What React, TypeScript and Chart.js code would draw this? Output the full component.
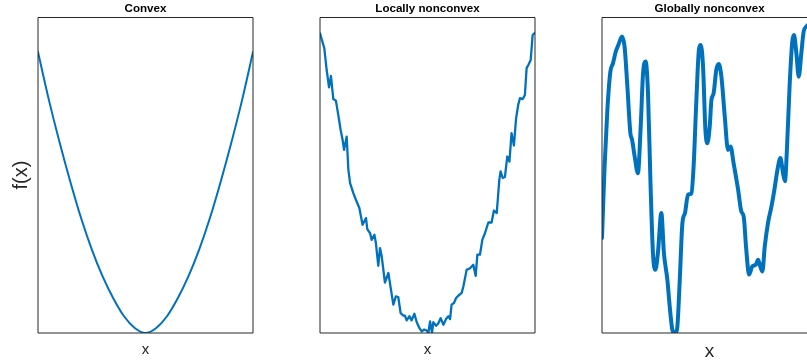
import React, { useEffect, useRef } from "react";
import { Chart, registerables } from "chart.js";

Chart.register(...registerables);

// ---- data (x and f(x) as percent of the axis range) ----
const convexX = [0, 5, 10, 15, 20, 25, 30, 35, 40, 45, 50, 55, 60, 65, 70, 75, 80, 85, 90, 95, 100];
const convexY = [89, 74, 60.5, 48, 36.5, 26.5, 18, 11, 5.3, 1.6, 0, 1.6, 5.3, 11, 18, 26.5, 36.5, 48, 60.5, 74, 89];

const localX = [
  0, 2.0, 3.1, 4.2, 5.1, 6.2, 7.4, 8.5, 9.6, 10.5, 11.2, 12.4, 13.2, 14.0, 15.5, 16.7, 18.3, 19.8, 21.4, 22.0,
  23.3, 24.0, 25.3, 26.0, 27.1, 27.9, 28.7, 30.2, 31.8, 32.9, 34.1, 35.3, 36.4, 37.5, 38.8, 39.5, 40.3, 41.6,
  42.6, 43.9, 45.0, 46.2, 47.3, 48.4, 49.6, 50.4, 51.2, 52.1, 52.7, 54.0, 55.0, 56.1, 57.4, 58.6, 59.7, 60.5,
  61.2, 62.3, 63.3, 64.3, 65.9, 66.7, 68.2, 69.8, 71.3, 72.4, 73.2, 74.4, 75.5, 76.7, 78.3, 79.8, 80.9, 82.2,
  83.4, 84.0, 85.0, 86.0, 87.1, 88.1, 89.1, 90.2, 91.2, 92.2, 93.0, 94.3, 95.3, 96.1, 96.9, 98.0, 98.9, 100,
];
const localY = [
  94.9, 90.2, 83.3, 77.8, 81.4, 74.1, 73.6, 69.1, 64.3, 61.2, 58.0, 62.2, 51.7, 47.5, 44.3, 42.2, 39.6, 34.3, 36.4, 32.9,
  31.6, 29.5, 31.1, 28.5, 21.3, 26.9, 24.3, 16.0, 19.0, 14.2, 9.0, 11.6, 11.4, 6.3, 5.5, 5.5, 4.0, 5.3,
  4.0, 6.1, 3.4, 1.6, 0.5, 1.1, 0.8, 0, 3.7, 0, 3.4, 2.3, 3.0, 4.7, 2.6, 4.4, 5.3, 4.4,
  9.0, 9.5, 11.1, 11.8, 12.7, 14.8, 20.0, 20.5, 21.6, 18.1, 24.8, 24.8, 29.5, 31.6, 35.0, 35.0, 38.8, 38.0,
  48.5, 51.2, 49.1, 49.4, 55.9, 54.3, 63.3, 59.4, 68.0, 72.3, 74.4, 74.1, 75.4, 83.9, 84.9, 86.5, 94.4, 95.1,
];

const globalX = [
  0, 1.2, 2.5, 3.9, 5.1, 6.4, 7.6, 9.3, 10.5, 11.8, 13.2, 14.0, 15.2, 16.7, 18.0, 19.1, 20.3, 21.4, 22.6, 23.7,
  24.8, 26.0, 27.6, 28.8, 30.4, 31.5, 32.7, 33.8, 34.9, 36.1, 37.4, 38.6, 40.0, 41.6, 42.6, 43.9, 45.1, 45.9,
  47.0, 48.1, 49.0, 50.1, 50.9, 51.9, 53.2, 54.3, 55.5, 57.1, 58.6, 59.8, 61.2, 63.3, 64.8, 65.9, 67.1, 68.4,
  69.9, 71.5, 72.6, 73.6, 74.6, 75.7, 77.2, 78.8, 80.3, 81.6, 83.0, 84.2, 85.1, 86.0, 87.3, 88.5, 89.3, 90.4,
  91.5, 92.7, 93.8, 95.0, 96.5,
];
const globalY = [
  30.1, 52.7, 70.7, 82.8, 85.4, 89.1, 91.2, 93.9, 90.7, 78.1, 63.3, 61.2, 55.9, 50.6, 65.4, 82.3, 86.0, 75.9, 46.4, 25.3,
  20.0, 25.3, 38.0, 25.3, 16.9, 8.4, 1.1, 0, 1.1, 15.8, 34.8, 38.0, 43.8, 44.3, 52.7, 73.8, 89.9, 91.2,
  84.4, 64.3, 60.1, 65.4, 73.8, 75.9, 83.5, 85.2, 81.4, 68.6, 58.0, 59.1, 53.8, 45.4, 38.5, 36.9, 26.4, 18.5,
  21.1, 21.6, 23.2, 21.1, 19.5, 27.4, 34.8, 40.0, 45.9, 51.7, 55.4, 50.6, 48.1, 58.0, 78.9, 92.3, 94.4, 88.6,
  81.2, 88.6, 95.5, 97.0, 98.0,
];

const panelTitles = ["Convex", "Locally nonconvex", "Globally nonconvex"];
const xAxisLabel = "x";
const yAxisLabel = "f(x)";

const FONT = "'Liberation Sans', Arial, Helvetica, sans-serif";
const LINE_COLOR = "#0072BD";

const boxPlugin = {
  id: "axbox",
  afterDraw(chart: any) {
    const { ctx, chartArea } = chart;
    const { left, right, top, bottom } = chartArea;
    ctx.save();
    ctx.strokeStyle = "#262626";
    ctx.lineWidth = 1;
    ctx.beginPath();
    const t = Math.round(top) + 0.5;
    ctx.moveTo(left, t);
    ctx.lineTo(right, t);
    ctx.moveTo(right, t);
    ctx.lineTo(right, bottom);
    ctx.lineTo(left, bottom);
    ctx.lineTo(left, t);
    ctx.stroke();
    ctx.restore();
  },
};

type PanelProps = {
  xs: number[];
  ys: number[];
  title: string;
  showY: boolean;
  lineWidth: number;
  smooth: boolean;
  xFontSize: number;
  xPad: { top: number; bottom: number };
  left: number;
};

function Panel(p: PanelProps) {
  const ref = useRef<HTMLCanvasElement | null>(null);
  useEffect(() => {
    if (!ref.current) return;
    const pts = p.xs.map((x, i) => ({ x, y: p.ys[i] }));
    const chart = new Chart(ref.current, {
      type: "line",
      data: {
        datasets: [
          {
            data: pts,
            borderColor: LINE_COLOR,
            borderWidth: p.lineWidth,
            pointRadius: 0,
            fill: false,
            tension: 0,
            cubicInterpolationMode: p.smooth ? "monotone" : "default",
            borderJoinStyle: "round",
            borderCapStyle: "round",
          } as any,
        ],
      },
      options: {
        animation: false,
        responsive: false,
        maintainAspectRatio: false,
        events: [],
        layout: { padding: { left: p.showY ? 0 : 38, right: 17, top: 0, bottom: 0 } },
        plugins: {
          legend: { display: false },
          tooltip: { enabled: false },
          title: {
            display: true,
            text: p.title,
            fullSize: false,
            color: "#000",
            font: { family: FONT, size: 11.6, weight: "bold", lineHeight: 1.2 },
            padding: { top: 1.74, bottom: 1.64 },
          },
        },
        scales: {
          x: {
            type: "linear",
            min: 0,
            max: 100,
            grid: { display: false, drawTicks: false },
            border: { display: false },
            ticks: { display: false },
            title: {
              display: true,
              text: xAxisLabel,
              color: "#262626",
              font: { family: FONT, size: p.xFontSize, lineHeight: 1.2 },
              padding: p.xPad,
            },
          },
          y: {
            type: "linear",
            min: 0,
            max: 100,
            grid: { display: false, drawTicks: false },
            border: { display: false },
            ticks: { display: false },
            title: {
              display: p.showY,
              text: yAxisLabel,
              color: "#262626",
              font: { family: FONT, size: 20, lineHeight: 1.2 },
              padding: { top: 9, bottom: 5 },
            },
          },
        },
      } as any,
      plugins: [boxPlugin],
    });
    return () => chart.destroy();
  }, []);
  return (
    <canvas
      ref={ref}
      width={270}
      height={364}
      style={{ position: "absolute", left: p.left, top: 0, width: 270, height: 364 }}
    />
  );
}

export default function App() {
  return (
    <div
      style={{
        position: "absolute",
        left: 0,
        top: 0,
        width: 807,
        height: 364,
        overflow: "hidden",
        background: "#fff",
      }}
    >
      <Panel xs={convexX} ys={convexY} title={panelTitles[0]} showY={true} lineWidth={2} smooth={true}
        xFontSize={15} xPad={{ top: 7.8, bottom: 5.2 }} left={0} />
      <Panel xs={localX} ys={localY} title={panelTitles[1]} showY={false} lineWidth={2.3} smooth={false}
        xFontSize={15} xPad={{ top: 7.8, bottom: 5.2 }} left={282} />
      <Panel xs={globalX} ys={globalY} title={panelTitles[2]} showY={false} lineWidth={4} smooth={true}
        xFontSize={19} xPad={{ top: 7.4, bottom: 0.8 }} left={564} />
    </div>
  );
}
